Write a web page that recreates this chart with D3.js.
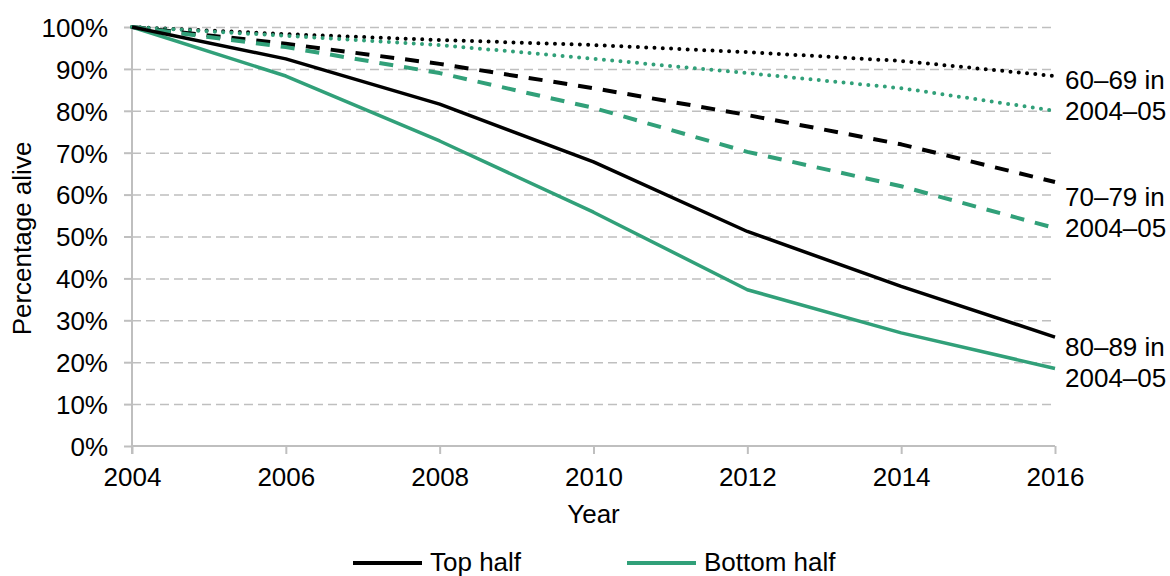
<!DOCTYPE html>
<html>
<head>
<meta charset="utf-8">
<script src="https://cdn.jsdelivr.net/npm/d3@7"></script>
<style>
  body { margin: 0; background: #fff; }
  text { font-family: "Liberation Sans", Arial, sans-serif; fill: #000; }
</style>
</head>
<body>
<div id="chart"></div>
<script>
// survival by age group and half of the distribution
const years = [2004, 2006, 2008, 2010, 2012, 2014, 2016];
const yTicks = [0, 10, 20, 30, 40, 50, 60, 70, 80, 90, 100];

const top6069 = [100, 98.3, 96.9, 95.7, 94.0, 91.9, 88.3];
const bottom6069 = [100, 97.9, 95.7, 92.4, 89.0, 85.4, 80.0];
const top7079 = [100, 96.0, 91.2, 85.4, 79.0, 72.0, 63.0];
const bottom7079 = [100, 95.2, 89.0, 80.7, 70.2, 62.0, 52.0];
const top8089 = [100, 92.4, 81.6, 67.8, 51.2, 38.1, 26.0];
const bottom8089 = [100, 88.3, 72.8, 55.8, 37.3, 27.0, 18.5];

const groupLabels = ['60–69 in', '70–79 in', '80–89 in'];
const cohortLabel = '2004–05';
const legendLabels = ['Top half', 'Bottom half'];

const black = '#000000';
const green = '#31a079';
const grey = '#bfbfbf';
const fontSize = 26;

const width = 1170, height = 576;
const margin = {left: 132, right: 115, top: 27, bottom: 130};
const w = width - margin.left - margin.right;
const h = height - margin.top - margin.bottom;

const svg = d3.select('#chart').append('svg')
    .attr('width', width)
    .attr('height', height);

const chart = svg.append('g')
    .attr('transform', `translate(${margin.left}, ${margin.top})`);

const x = d3.scaleLinear().domain([2004, 2016]).range([0, w]);
const y = d3.scaleLinear().domain([0, 100]).range([h, 0]);

// dashed grid lines
chart.append('g')
    .call(d3.axisLeft(y).tickValues(yTicks.slice(1)).tickSize(-w).tickFormat(''))
    .call(g => g.select('.domain').remove())
    .call(g => g.selectAll('line')
        .attr('stroke', grey)
        .attr('stroke-width', 1.5)
        .attr('stroke-dasharray', '9,5'));

// y axis
chart.append('g')
    .call(d3.axisLeft(y).tickValues(yTicks).tickSize(8).tickPadding(16).tickFormat(d => d + '%'))
    .call(g => g.select('.domain').attr('stroke', grey).attr('stroke-width', 2)
        .attr('d', `M0,${h + 8}V0`))
    .call(g => g.selectAll('line').attr('stroke', grey).attr('stroke-width', 2))
    .call(g => g.selectAll('text').attr('font-size', fontSize).attr('dy', '0.36em'));

// x axis
chart.append('g')
    .attr('transform', `translate(0, ${h})`)
    .call(d3.axisBottom(x).tickValues(years).tickSize(8).tickPadding(14).tickFormat(d3.format('d')))
    .call(g => g.select('.domain').attr('stroke', grey).attr('stroke-width', 2)
        .attr('d', `M0,0H${w}`))
    .call(g => g.selectAll('line').attr('stroke', grey).attr('stroke-width', 2))
    .call(g => g.selectAll('text').attr('font-size', fontSize));

const line = d3.line()
    .x((d, i) => x(years[i]))
    .y(d => y(d));

const series = [
    {values: top6069, color: black, dash: '0,8.3', width: 4, cap: 'round'},
    {values: bottom6069, color: green, dash: '0,8.3', width: 4, cap: 'round'},
    {values: top7079, color: black, dash: '14,11', width: 4, cap: 'butt'},
    {values: bottom7079, color: green, dash: '14,11', width: 4, cap: 'butt'},
    {values: bottom8089, color: green, dash: null, width: 3.5, cap: 'butt'},
    {values: top8089, color: black, dash: null, width: 3.5, cap: 'butt'}
];

chart.selectAll('path.series')
    .data(series)
    .enter()
    .append('path')
    .attr('class', 'series')
    .attr('d', s => line(s.values))
    .attr('fill', 'none')
    .attr('stroke', s => s.color)
    .attr('stroke-width', s => s.width)
    .attr('stroke-dasharray', s => s.dash)
    .attr('stroke-linecap', s => s.cap)
    .attr('stroke-linejoin', 'round');

// right-hand group labels, placed off the midpoint of each pair's end values
const pairs = [[top6069, bottom6069], [top7079, bottom7079], [top8089, bottom8089]];
const labelShift = [-32, -27, -25];
pairs.forEach((p, i) => {
    const last = years.length - 1;
    const mid = (y(p[0][last]) + y(p[1][last])) / 2;
    const t = chart.append('text')
        .attr('x', w + 10)
        .attr('y', mid + labelShift[i] + 28)
        .attr('font-size', fontSize);
    t.append('tspan').attr('x', w + 10).attr('dy', 0).text(groupLabels[i]);
    t.append('tspan').attr('x', w + 10).attr('dy', 31).text(cohortLabel);
});

// axis titles
svg.append('text')
    .attr('transform', `translate(31, ${margin.top + h / 2 + 2}) rotate(-90)`)
    .attr('text-anchor', 'middle')
    .attr('font-size', fontSize)
    .text('Percentage alive');

svg.append('text')
    .attr('x', margin.left + w / 2)
    .attr('y', 523)
    .attr('text-anchor', 'middle')
    .attr('font-size', fontSize)
    .text('Year');

// legend
const legend = svg.append('g').attr('transform', 'translate(0, 563)');
const legendX = [353, 627];
legendLabels.forEach((label, i) => {
    legend.append('line')
        .attr('x1', legendX[i]).attr('x2', legendX[i] + 69)
        .attr('y1', 0).attr('y2', 0)
        .attr('stroke', i === 0 ? black : green)
        .attr('stroke-width', 4);
    legend.append('text')
        .attr('x', legendX[i] + 77)
        .attr('y', 8)
        .attr('font-size', fontSize)
        .text(label);
});
</script>
</body>
</html>
